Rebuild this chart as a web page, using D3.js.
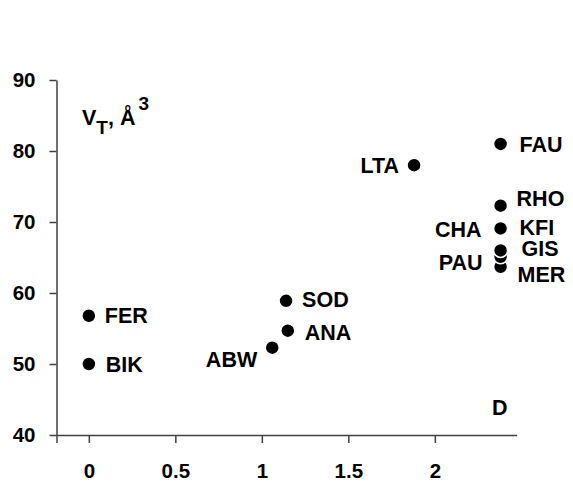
<!DOCTYPE html>
<html>
<head>
<meta charset="utf-8">
<script src="https://cdn.jsdelivr.net/npm/d3@7"></script>
<style>
  body { margin: 0; background: #fff; }
  text { font-family: "Liberation Sans", Arial, sans-serif; font-weight: bold; }
</style>
</head>
<body>
<div id="chart"></div>
<script>
// framework names and their values
const codes   = ["FER", "BIK", "ABW", "ANA", "SOD", "LTA", "FAU", "RHO", "KFI", "GIS", "PAU", "MER"];
const dValues = [0,     0,     1.06,  1.15,  1.14,  1.88,  2.38,  2.38,  2.38,  2.38,  2.38,  2.38];
const vtValues = [56.8, 50.0,  52.3,  54.7,  58.9,  78.0,  81.0,  72.3,  69.1,  66.0,  65.1,  63.7];
const xTicks = [0, 0.5, 1, 1.5, 2];
const yTicks = [40, 50, 60, 70, 80, 90];
// CHA sits on the same point as KFI, written on the other side
const extraLabels = [{ text: "CHA", d: 2.38, vt: 69.1 }];

// label placement (px, relative to the marker)
const labelPos = {
  FER: [16, 0, "start"], BIK: [17, 0, "start"], ABW: [-15, 12, "end"],
  ANA: [17, 1.5, "start"], SOD: [16, -2, "start"], LTA: [-15, 0, "end"],
  FAU: [19, 0, "start"], RHO: [16, -7, "start"], KFI: [19, -1, "start"],
  GIS: [21, -2.5, "start"], PAU: [-18, 5.5, "end"], MER: [17, 8, "start"],
  CHA: [-19, 1, "end"]
};

const width = 573, height = 483;
const svg = d3.select("#chart").append("svg")
  .attr("width", width)
  .attr("height", height);

const x = d3.scaleLinear().domain([-0.187, 2.472]).range([56.5, 516.5]);
const y = d3.scaleLinear().domain([40, 90]).range([435, 80]);

const axisColor = "#404040";

// y axis
const yAxis = svg.append("g")
  .attr("transform", "translate(56.5,0)")
  .call(d3.axisLeft(y).tickValues(yTicks).tickSize(7).tickSizeOuter(0).tickPadding(14));

// x axis (extra tick at the left end where the y axis crosses)
const xAxis = svg.append("g")
  .attr("transform", "translate(0,435)")
  .call(d3.axisBottom(x)
    .tickValues([x.domain()[0]].concat(xTicks))
    .tickFormat(d => xTicks.includes(d) ? d3.format("")(d) : "")
    .tickSize(8).tickSizeOuter(0).tickPadding(20));

[yAxis, xAxis].forEach(g => {
  g.selectAll("path, line").attr("stroke", axisColor).attr("stroke-width", 1.5);
  g.selectAll("text")
    .attr("fill", "#000")
    .style("font-size", "20.5px")
    .style("font-family", "'Liberation Sans', Arial, sans-serif")
    .style("font-weight", "bold");
});

// points: draw lowest first so that higher ones overlap them
const points = codes.map((c, i) => ({ code: c, d: dValues[i], vt: vtValues[i] }));
const order = points.slice().sort((a, b) => a.vt - b.vt);

svg.append("g").selectAll("circle")
  .data(order)
  .join("circle")
  .attr("cx", p => x(p.d))
  .attr("cy", p => y(p.vt))
  .attr("r", 7)
  .attr("fill", "#000")
  .attr("stroke", "#fff")
  .attr("stroke-width", 1.5);

svg.append("g").selectAll("text")
  .data(points.map(p => ({ text: p.code, d: p.d, vt: p.vt })).concat(extraLabels))
  .join("text")
  .attr("x", p => x(p.d) + labelPos[p.text][0])
  .attr("y", p => y(p.vt) + labelPos[p.text][1])
  .attr("dy", "0.36em")
  .attr("text-anchor", p => labelPos[p.text][2])
  .style("font-size", "21.5px")
  .text(p => p.text);

// axis captions
const vt = svg.append("text").attr("x", 82).attr("y", 125).style("font-size", "21.5px");
vt.append("tspan").text("V");
vt.append("tspan").attr("dy", 9).style("font-size", "19px").text("T");
vt.append("tspan").attr("dy", -9).text(", Å");
vt.append("tspan").attr("dx", 3).attr("dy", -15).style("font-size", "19px").text("3");

svg.append("text").attr("x", 492).attr("y", 415).style("font-size", "21.5px").text("D");
</script>
</body>
</html>
